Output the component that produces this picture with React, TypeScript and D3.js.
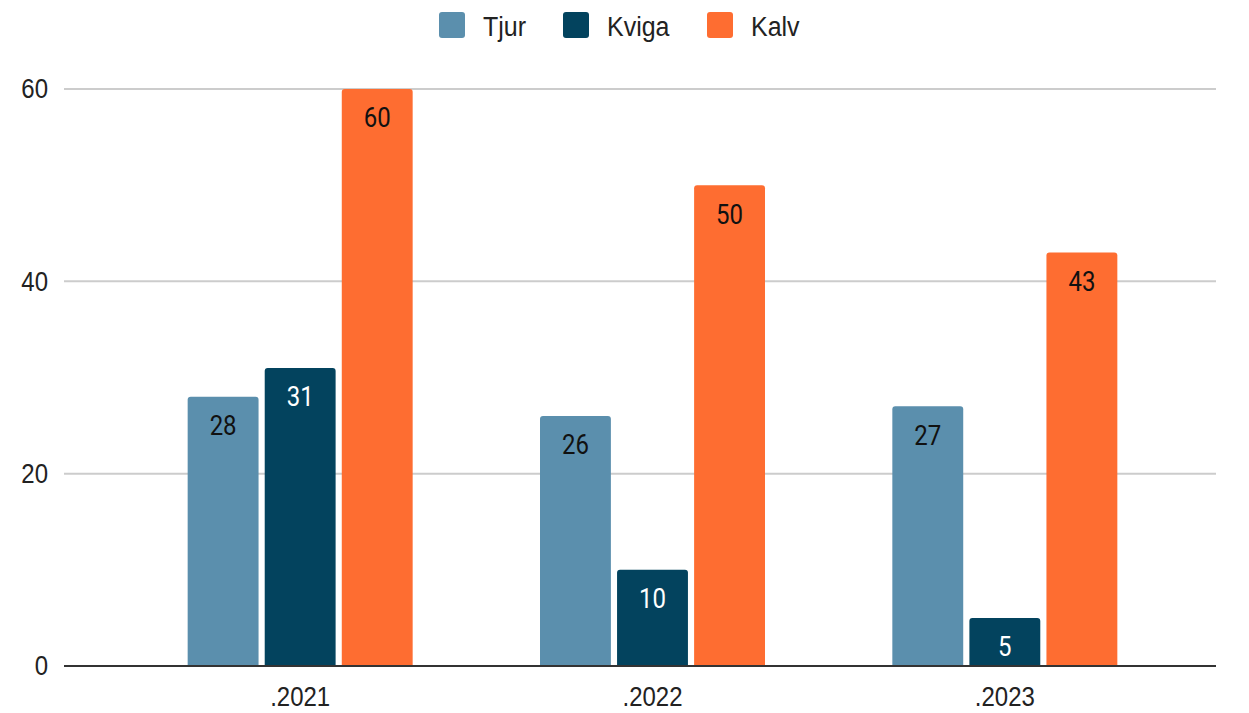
import { useEffect, useRef } from 'react';
import * as d3 from 'd3';

const years: string[] = ['.2021', '.2022', '.2023'];
const seriesNames: string[] = ['Tjur', 'Kviga', 'Kalv'];
const tjur: number[] = [28, 26, 27];
const kviga: number[] = [31, 10, 5];
const kalv: number[] = [60, 50, 43];
const yTicks: number[] = [0, 20, 40, 60];

const colors: string[] = ['#5b8fad', '#03435e', '#fe6d31'];
const labelColors: string[] = ['#111', '#fff', '#111'];

function App() {
	const ref = useRef<SVGSVGElement | null>(null);
	const width = 1249;
	const height = 713;

	useEffect(() => {
		const svg = d3.select(ref.current);
		svg.selectAll('*').remove();

		const values = [tjur, kviga, kalv];
		const rows = years.map((y, i) => ({ year: y, vals: values.map((v) => v[i]) }));

		const y = d3.scaleLinear().domain([0, 60]).range([666, 89]);
		const x0 = d3.scaleBand<string>().domain(years).range([124, 1181]).padding(0);
		const groupW = 225;
		const x1 = d3.scaleBand<string>().domain(seriesNames).range([0, groupW]).paddingInner(0.08);

		// stretched text, the reference glyphs are a bit taller than wide
		const tall = (sel: d3.Selection<SVGTextElement, any, any, any>, size: number, family: string) =>
			sel.style('font-family', family).style('font-size', `${size}px`);

		// gridlines
		svg.append('g')
			.selectAll('line')
			.data(yTicks.filter((t) => t > 0))
			.enter()
			.append('line')
			.attr('x1', 64)
			.attr('x2', 1216)
			.attr('y1', (d) => y(d))
			.attr('y2', (d) => y(d))
			.style('stroke', '#cccccc')
			.style('stroke-width', 2);

		tall(
			svg.append('g')
				.selectAll('text')
				.data(yTicks)
				.enter()
				.append('text')
				.attr('transform', (d) => `translate(48, ${y(d)}) scale(1, 1.12)`)
				.attr('dy', '0.35em')
				.attr('text-anchor', 'end')
				.style('fill', '#222')
				.text((d) => d),
			24,
			'Liberation Sans, Arial, sans-serif'
		);

		const groups = svg
			.selectAll('g.grp')
			.data(rows)
			.enter()
			.append('g')
			.attr('class', 'grp')
			.attr('transform', (d) => `translate(${x0(d.year)! + (x0.bandwidth() - groupW) / 2}, 0)`);

		const cells = groups
			.selectAll('g.cell')
			.data((d) => d.vals.map((v, i) => ({ v, i })))
			.enter()
			.append('g')
			.attr('class', 'cell');

		cells.append('path')
			.attr('d', (d) => {
				const bx = x1(seriesNames[d.i])!;
				const bw = x1.bandwidth();
				const top = y(d.v);
				const bottom = y(0);
				const r = 3;
				return `M${bx},${bottom}V${top + r}Q${bx},${top} ${bx + r},${top}H${bx + bw - r}Q${bx + bw},${top} ${bx + bw},${top + r}V${bottom}Z`;
			})
			.style('fill', (d) => colors[d.i]);

		tall(
			cells.append('text')
				.attr('transform', (d) => `translate(${x1(seriesNames[d.i])! + x1.bandwidth() / 2}, ${y(d.v) + 29}) scale(1, 1.12)`)
				.attr('dy', '0.35em')
				.attr('text-anchor', 'middle')
				.style('fill', (d) => labelColors[d.i])
				.text((d) => d.v),
			24,
			'Roboto, sans-serif'
		);

		// baseline
		svg.append('line')
			.attr('x1', 64)
			.attr('x2', 1216)
			.attr('y1', y(0))
			.attr('y2', y(0))
			.style('stroke', '#333')
			.style('stroke-width', 2);

		tall(
			svg.append('g')
				.selectAll('text')
				.data(years)
				.enter()
				.append('text')
				.attr('transform', (d) => `translate(${x0(d)! + x0.bandwidth() / 2}, 697) scale(1, 1.12)`)
				.attr('dy', '0.35em')
				.attr('text-anchor', 'middle')
				.style('fill', '#222')
				.text((d) => d),
			24,
			'Liberation Sans, Arial, sans-serif'
		);

		// legend
		const legendX = [439, 563, 707];
		const legend = svg
			.selectAll('g.leg')
			.data(seriesNames)
			.enter()
			.append('g')
			.attr('class', 'leg')
			.attr('transform', (_d, i) => `translate(${legendX[i]}, 12)`);

		legend.append('rect')
			.attr('width', 26)
			.attr('height', 26)
			.attr('rx', 3)
			.style('fill', (_d, i) => colors[i]);

		tall(
			legend.append('text')
				.attr('transform', 'translate(44, 14) scale(1, 1.12)')
				.attr('dy', '0.35em')
				.style('fill', '#222')
				.text((d) => d),
			25,
			'Liberation Sans, Arial, sans-serif'
		);
	}, []);

	return <svg ref={ref} width={width} height={height} style={{ display: 'block', position: 'absolute', left: 0, top: 0 }} />;
}

export default App;
